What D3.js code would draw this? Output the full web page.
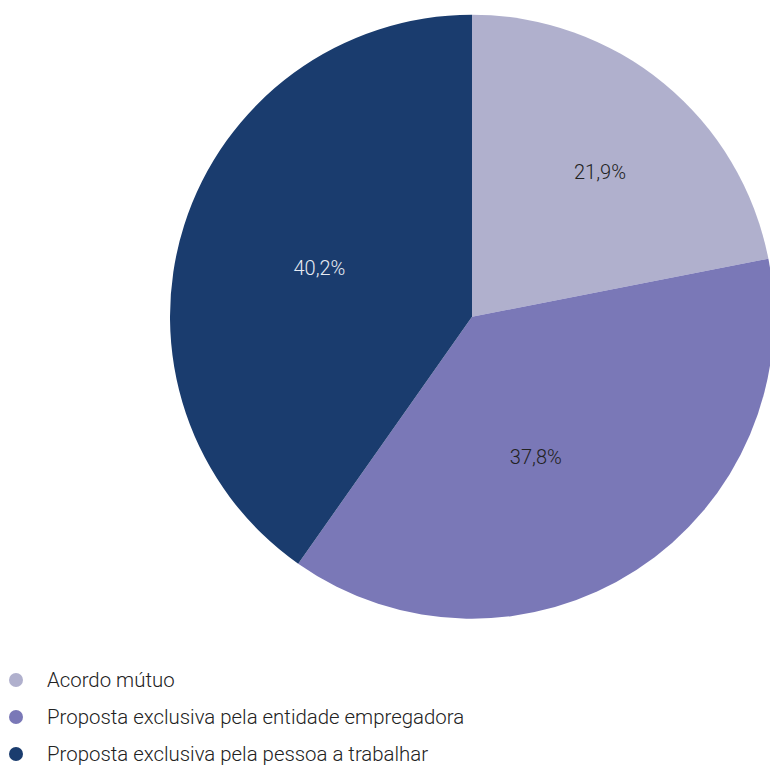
<!DOCTYPE html>
<html>
<head>
<meta charset="utf-8">
<script src="https://cdn.jsdelivr.net/npm/d3@7"></script>
<style>
  html, body { margin: 0; padding: 0; background: #ffffff; }
  svg { display: block; font-family: Roboto, "Noto Sans", sans-serif; font-weight: 300; }
</style>
</head>
<body>
<svg id="chart" width="770" height="765"></svg>
<script>
// Categories, values (%) and slice colours
const categories = [
  "Acordo mútuo",
  "Proposta exclusiva pela entidade empregadora",
  "Proposta exclusiva pela pessoa a trabalhar"
];
const values = [21.9, 37.8, 40.2];
const colors = ["#b0b0cd", "#7a78b7", "#1a3c6e"];
const labelColors = ["#222222", "#222222", "#e6ebf3"];

const svg = d3.select("#chart");
const cx = 472, cy = 316.7, radius = 302;

const pie = d3.pie().sort(null).value(d => d.value);
const arcs = pie(categories.map((c, i) => ({ name: c, value: values[i], i })));

const arc = d3.arc().innerRadius(0).outerRadius(radius);

const g = svg.append("g").attr("transform", `translate(${cx},${cy})`);

g.selectAll("path.slice")
  .data(arcs)
  .join("path")
  .attr("class", "slice")
  .attr("d", arc)
  .attr("fill", d => colors[d.data.i]);

// Value labels placed inside each slice
const labelPlacement = [
  { rf: 0.64, da: 2 },
  { rf: 0.51, da: 8.5 },
  { rf: 0.53, da: 0 }
];
const fmt = v => d3.format(".1f")(v).replace(".", ",") + "%";

g.selectAll("text.value")
  .data(arcs)
  .join("text")
  .attr("class", "value")
  .attr("text-anchor", "middle")
  .attr("dominant-baseline", "central")
  .attr("font-size", 20)
  .attr("fill", d => labelColors[d.data.i])
  .attr("transform", d => {
    const p = labelPlacement[d.data.i];
    const a = (d.startAngle + d.endAngle) / 2 + p.da * Math.PI / 180;
    const r = radius * p.rf;
    return `translate(${Math.sin(a) * r},${-Math.cos(a) * r})`;
  })
  .text(d => fmt(d.data.value));

// Legend
const legend = svg.append("g").attr("transform", "translate(16,680)");
const rows = legend.selectAll("g.row")
  .data(categories)
  .join("g")
  .attr("class", "row")
  .attr("transform", (d, i) => `translate(0,${i * 37})`);

rows.append("circle")
  .attr("r", 7)
  .attr("fill", (d, i) => colors[i]);

rows.append("text")
  .attr("x", 31)
  .attr("dominant-baseline", "central")
  .attr("font-size", 20.4)
  .attr("fill", "#222222")
  .text(d => d);
</script>
</body>
</html>
